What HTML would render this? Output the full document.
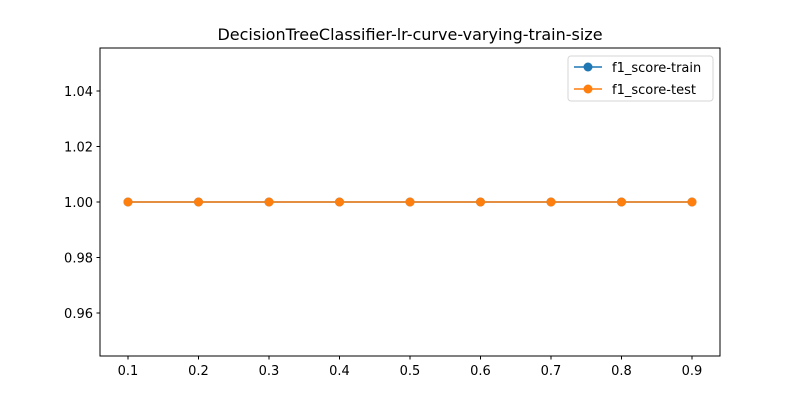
<!DOCTYPE html>
<html><head><meta charset="utf-8"><style>
body{margin:0;background:#fff;}
svg text{font-family:"DejaVu Sans","Liberation Sans",sans-serif;}
</style></head><body>
<svg id="chart" width="800" height="400" xmlns="http://www.w3.org/2000/svg">
<rect width="800" height="400" fill="#fff"/>
<text x="410" y="40" font-size="16" text-anchor="middle" fill="#000">DecisionTreeClassifier-lr-curve-varying-train-size</text>
<g id="axes"></g>
<g id="series"></g>
<rect x="100" y="48" width="620" height="308" fill="none" stroke="#000" stroke-width="1"/>
<g>
<rect x="568" y="56" width="145" height="45" rx="3" fill="#fff" stroke="#ccc" stroke-opacity="0.8"/>
<g>
<line x1="574" y1="67" x2="602" y2="67" stroke="#1f77b4" stroke-width="1.5"/>
<circle cx="588" cy="67" r="4.5" fill="#1f77b4"/>
<text x="612" y="72" font-size="13" fill="#000">f1_score-train</text>
</g>
<g>
<line x1="574" y1="89" x2="602" y2="89" stroke="#ff7f0e" stroke-width="1.5"/>
<circle cx="588" cy="89" r="4.5" fill="#ff7f0e"/>
<text x="612" y="94" font-size="13" fill="#000">f1_score-test</text>
</g>
</g>
</svg>
<script>
const trainSizes=[0.1,0.2,0.3,0.4,0.5,0.6,0.7,0.8,0.9];
const trainScores=[1,1,1,1,1,1,1,1,1];
const testScores=[1,1,1,1,1,1,1,1,1];
const xTicks=[0.1,0.2,0.3,0.4,0.5,0.6,0.7,0.8,0.9];
const yTicks=[0.96,0.98,1.00,1.02,1.04];
const NS="http://www.w3.org/2000/svg";
const xS=v=>128+(v-0.1)*705;
const yS=v=>202-(v-1.0)*2775;
function mk(t,a,p){const e=document.createElementNS(NS,t);for(const k in a)e.setAttribute(k,a[k]);p.appendChild(e);return e;}
const ax=document.getElementById('axes');
xTicks.forEach(v=>{
 const g=mk('g',{},ax);
 
 
 mk('line',{x1:xS(v),x2:xS(v),y1:356,y2:359.5,stroke:'#000'},g);
 const t=mk('text',{x:xS(v),y:375,'font-size':13,'text-anchor':'middle'},g);t.textContent=v.toFixed(1);
});
yTicks.forEach(v=>{
 const g=mk('g',{},ax);
 
 
 mk('line',{x1:96.5,x2:100,y1:yS(v),y2:yS(v),stroke:'#000'},g);
 const t=mk('text',{x:93,y:yS(v)+5,'font-size':13,'text-anchor':'end'},g);t.textContent=v.toFixed(2);
});
const sg=document.getElementById('series');
[[trainScores,'#1f77b4','train'],[testScores,'#ff7f0e','test']].forEach(([ys,c,n])=>{
 const g=mk('g',{},sg);
 
 
 mk('polyline',{points:trainSizes.map((x,i)=>xS(x)+','+yS(ys[i])).join(' '),fill:'none',stroke:c,'stroke-width':1.5},g);
 trainSizes.forEach((x,i)=>{
  const p=mk('circle',{cx:xS(x),cy:yS(ys[i]),r:4.5,fill:c},g);
  
  
 });
});
</script>
</body></html>
